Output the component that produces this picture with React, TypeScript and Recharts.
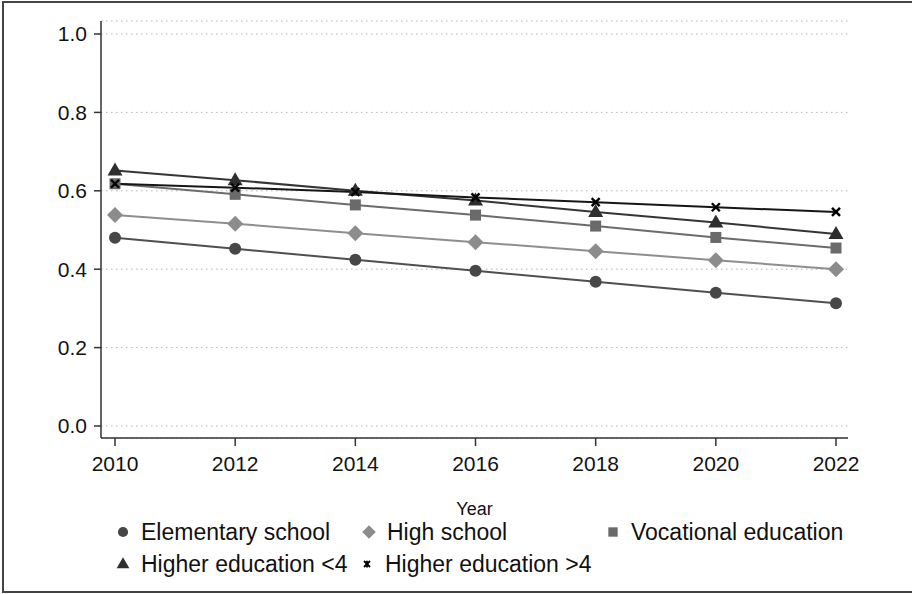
import { LineChart, Line, XAxis, YAxis, CartesianGrid } from 'recharts';

// survey years on the x axis
const years = [2010, 2012, 2014, 2016, 2018, 2020, 2022];

// predicted share per education group
const elementary = [0.48, 0.452, 0.424, 0.396, 0.368, 0.34, 0.313];
const highSchool = [0.538, 0.516, 0.492, 0.469, 0.446, 0.423, 0.4];
const vocational = [0.618, 0.591, 0.564, 0.538, 0.51, 0.481, 0.454];
const higherUnder4 = [0.652, 0.627, 0.6, 0.575, 0.546, 0.519, 0.49];
const higherOver4 = [0.618, 0.608, 0.597, 0.583, 0.571, 0.558, 0.546];

const yTicks = [0, 0.2, 0.4, 0.6, 0.8, 1.0];

type Shape = 'circle' | 'diamond' | 'square' | 'triangle' | 'cross';

const series: { key: string; name: string; values: number[]; line: string; fill: string; shape: Shape }[] = [
  { key: 'elem', name: 'Elementary school', values: elementary, line: '#4f4f4f', fill: '#474747', shape: 'circle' },
  { key: 'high', name: 'High school', values: highSchool, line: '#8e8e8e', fill: '#8c8c8c', shape: 'diamond' },
  { key: 'voc', name: 'Vocational education', values: vocational, line: '#6c6c6c', fill: '#6a6a6a', shape: 'square' },
  { key: 'hu4', name: 'Higher education <4', values: higherUnder4, line: '#353535', fill: '#2e2e2e', shape: 'triangle' },
  { key: 'ho4', name: 'Higher education >4', values: higherOver4, line: '#161616', fill: '#000000', shape: 'cross' },
];

const data = years.map((year, i) => {
  const row: Record<string, number> = { year };
  series.forEach((s) => {
    row[s.key] = s.values[i];
  });
  return row;
});

const FONT = '"Liberation Sans", Arial, Helvetica, sans-serif';

function Marker({
  shape,
  cx,
  cy,
  fill,
  scale = 1,
  star = false,
}: {
  shape: Shape;
  cx: number;
  cy: number;
  fill: string;
  scale?: number;
  star?: boolean;
}) {
  const k = scale;
  switch (shape) {
    case 'circle':
      return <circle cx={cx} cy={cy} r={6 * k} fill={fill} />;
    case 'diamond':
      return (
        <polygon
          points={`${cx},${cy - 8 * k} ${cx + 8 * k},${cy} ${cx},${cy + 8 * k} ${cx - 8 * k},${cy}`}
          fill={fill}
        />
      );
    case 'square':
      return <rect x={cx - 5.5 * k} y={cy - 5.5 * k} width={11 * k} height={11 * k} fill={fill} />;
    case 'triangle':
      return (
        <polygon
          points={`${cx},${cy - 8 * k} ${cx + 7.5 * k},${cy + 5 * k} ${cx - 7.5 * k},${cy + 5 * k}`}
          fill={fill}
        />
      );
    case 'cross':
      return (
        <g stroke={fill} strokeWidth={2.4 * k} strokeLinecap="butt">
          <line x1={cx - 4 * k} y1={cy - 4 * k} x2={cx + 4 * k} y2={cy + 4 * k} />
          <line x1={cx - 4 * k} y1={cy + 4 * k} x2={cx + 4 * k} y2={cy - 4 * k} />
          {star && <line x1={cx} y1={cy - 4.5 * k} x2={cx} y2={cy + 4.5 * k} />}
        </g>
      );
  }
}

// legend slots: marker centre x and row centre y
const legendSlots = [
  { x: 123, y: 532 },
  { x: 369, y: 532 },
  { x: 613, y: 532 },
  { x: 123, y: 564 },
  { x: 367, y: 564 },
];

function ChartLegend() {
  return (
    <>
      {series.map((s, i) => {
        const slot = legendSlots[i];
        return (
          <div
            key={s.key}
            style={{
              position: 'absolute',
              left: slot.x - 10,
              top: slot.y - 10,
              height: 20,
              display: 'flex',
              alignItems: 'center',
              fontFamily: FONT,
              fontSize: 23,
              lineHeight: '20px',
              color: '#111',
              whiteSpace: 'nowrap',
            }}
          >
            <svg width={20} height={20} style={{ marginRight: 8 }}>
              <Marker
                shape={s.shape}
                cx={10}
                cy={10}
                fill={s.fill}
                scale={s.shape === 'cross' ? 0.75 : 0.85}
                star
              />
            </svg>
            {s.name}
          </div>
        );
      })}
    </>
  );
}

export default function App() {
  return (
    <div style={{ position: 'absolute', left: 0, top: 0, width: 912, height: 594, background: '#fff' }}>
      <div
        style={{
          position: 'absolute',
          left: 2,
          top: 1,
          width: 920,
          height: 588,
          borderLeft: '2px solid #444',
          borderTop: '2px solid #444',
          borderBottom: '2px solid #444',
        }}
      />
      <LineChart
        width={912}
        height={594}
        data={data}
        margin={{ top: 21, right: 64, bottom: 74, left: 0 }}
        style={{ position: 'absolute', left: 0, top: 0, fontFamily: FONT }}
      >
        <CartesianGrid horizontal vertical={false} stroke="#b5b5b5" strokeDasharray="1.5 3.5" />
        <XAxis
          dataKey="year"
          type="number"
          domain={[2010, 2022]}
          ticks={years}
          padding={{ left: 14, right: 12 }}
          height={82}
          tickSize={8}
          tickMargin={10}
          stroke="#333"
          strokeWidth={1.5}
          tick={{ fill: '#111', fontSize: 21 }}
          label={{ value: 'Year', position: 'insideBottom', offset: 5, fill: '#111', fontSize: 18 }}
        />
        <YAxis
          type="number"
          domain={[0, 1]}
          ticks={yTicks}
          padding={{ top: 13, bottom: 12 }}
          width={101}
          tickSize={7}
          tickMargin={7}
          stroke="#333"
          strokeWidth={1.5}
          tick={{ fill: '#111', fontSize: 21 }}
          tickFormatter={(v: number) => v.toFixed(1)}
        />
        {series.map((s) => (
          <Line
            key={s.key}
            dataKey={s.key}
            name={s.name}
            stroke={s.line}
            strokeWidth={2}
            isAnimationActive={false}
            dot={(p: any) => <Marker key={`${s.key}-${p.index}`} shape={s.shape} cx={p.cx} cy={p.cy} fill={s.fill} />}
            activeDot={false}
          />
        ))}
      </LineChart>
      <ChartLegend />
    </div>
  );
}
